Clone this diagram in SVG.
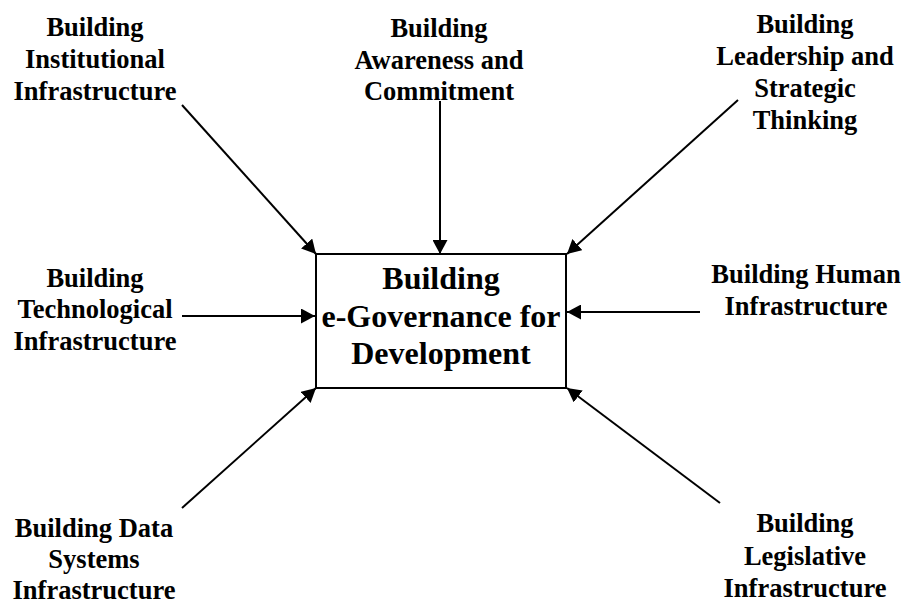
<svg xmlns="http://www.w3.org/2000/svg" width="904" height="600" viewBox="0 0 904 600">
<style>
.lbl{font-family:"Liberation Serif","Times New Roman",serif;font-weight:bold;font-size:26.5px;fill:#000;text-anchor:middle}
.ctr{font-family:"Liberation Serif","Times New Roman",serif;font-weight:bold;font-size:32px;fill:#000;text-anchor:middle}
.con{stroke:#000;stroke-width:2;fill:none;marker-end:url(#ah)}
</style>
<defs>
<marker id="ah" markerUnits="userSpaceOnUse" markerWidth="15" markerHeight="15" refX="14" refY="7.5" orient="auto">
<path d="M0,0 L14,7.5 L0,15 z" fill="#000"/>
</marker>
</defs>
<rect width="904" height="600" fill="#fff"/>
<g id="center">
<rect x="316" y="254" width="250" height="134" fill="#fff" stroke="#000" stroke-width="2"/>
<text class="ctr" x="441" y="289">Building</text>
<text class="ctr" x="441" y="327">e-Governance for</text>
<text class="ctr" x="441" y="364">Development</text>
</g>
<g id="institutional">
<text class="lbl" x="95" y="36">Building</text>
<text class="lbl" x="95" y="68">Institutional</text>
<text class="lbl" x="95" y="100">Infrastructure</text>
</g>
<g id="awareness">
<text class="lbl" x="439" y="37">Building</text>
<text class="lbl" x="439" y="69">Awareness and</text>
<text class="lbl" x="439" y="100">Commitment</text>
</g>
<g id="leadership">
<text class="lbl" x="805" y="33">Building</text>
<text class="lbl" x="805" y="65">Leadership and</text>
<text class="lbl" x="805" y="97">Strategic</text>
<text class="lbl" x="805" y="129">Thinking</text>
</g>
<g id="technological">
<text class="lbl" x="95" y="287">Building</text>
<text class="lbl" x="95" y="318">Technological</text>
<text class="lbl" x="95" y="350">Infrastructure</text>
</g>
<g id="human">
<text class="lbl" x="806" y="283">Building Human</text>
<text class="lbl" x="806" y="315">Infrastructure</text>
</g>
<g id="data">
<text class="lbl" x="94" y="537">Building Data</text>
<text class="lbl" x="94" y="568">Systems</text>
<text class="lbl" x="94" y="599">Infrastructure</text>
</g>
<g id="legislative">
<text class="lbl" x="805" y="532">Building</text>
<text class="lbl" x="805" y="565">Legislative</text>
<text class="lbl" x="805" y="597">Infrastructure</text>
</g>
<g id="connectors">
<line class="con" x1="182" y1="105" x2="316" y2="254"/>
<line class="con" x1="440" y1="101" x2="440" y2="254"/>
<line class="con" x1="738" y1="100" x2="567" y2="254"/>
<line class="con" x1="182" y1="316" x2="315" y2="316"/>
<line class="con" x1="700" y1="312" x2="567" y2="312"/>
<line class="con" x1="182" y1="508" x2="316" y2="388"/>
<line class="con" x1="720" y1="503" x2="567" y2="388"/>
</g>
</svg>
